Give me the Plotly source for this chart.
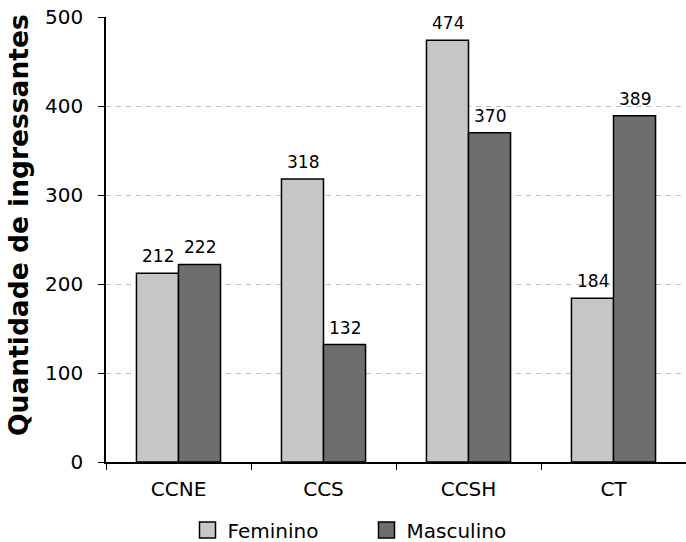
import plotly.graph_objects as go

categories = ["CCNE", "CCS", "CCSH", "CT"]
feminino = [212, 318, 474, 184]
masculino = [222, 132, 370, 389]
y_ticks = [0, 100, 200, 300, 400, 500]
series_names = ["Feminino", "Masculino"]
series_colors = ["#c6c6c6", "#6e6e6e"]

FONT = "DejaVu Sans, Verdana, sans-serif"
BAR_HALF = 21  # half bar width in px, for value labels

fig = go.Figure()
for name, vals, col in zip(series_names, [feminino, masculino], series_colors):
    fig.add_trace(go.Bar(
        x=categories, y=vals, name=name, showlegend=False,
        marker=dict(color=col, line=dict(color="black", width=1.5)),
        hoverinfo="x+y",
    ))
# value labels above bars
annotations = []
for k, vals in enumerate([feminino, masculino]):
    shift = -BAR_HALF if k == 0 else BAR_HALF
    for c, v in zip(categories, vals):
        annotations.append(dict(
            x=c, y=v, xref="x", yref="y", text=str(v), showarrow=False,
            xanchor="center", yanchor="bottom", xshift=shift, yshift=5,
            font=dict(size=17, color="black", family=FONT),
        ))
annotations.append(dict(
    text="<b>Quantidade de ingressantes</b>", textangle=-90,
    xref="paper", yref="paper", x=(19 - 106) / 580, y=(462 - 225) / 445,
    xanchor="center", yanchor="middle", showarrow=False,
    font=dict(size=26.5, color="black", family=FONT),
))
# legend entries with larger square symbols
for name, col in zip(series_names, series_colors):
    fig.add_trace(go.Scatter(
        x=[None], y=[None], mode="markers", name=name,
        marker=dict(symbol="square", size=16, color=col, line=dict(color="black", width=1.5)),
    ))

fig.update_layout(
    width=686, height=542,
    margin=dict(l=106, r=0, t=17, b=80, autoexpand=False),
    paper_bgcolor="white", plot_bgcolor="white",
    font=dict(family=FONT, size=20, color="black"),
    barmode="group", bargap=0.42, bargroupgap=0,
    showlegend=True,
    legend=dict(orientation="h", x=(187.5 - 106) / 580, xanchor="left",
                y=-(530 - 462) / 445, yanchor="middle",
                font=dict(size=20), itemwidth=30, entrywidth=134, entrywidthmode="pixels",
                bgcolor="rgba(0,0,0,0)"),
    annotations=annotations,
)
fig.update_xaxes(
    showline=True, linecolor="black", linewidth=1.5,
    ticks="outside", ticklen=6, tickcolor="black", tickson="boundaries",
    tickfont=dict(size=20), showgrid=False, automargin=False,
    ticklabelstandoff=8,
)
fig.update_yaxes(
    range=[0, 500], tickvals=y_ticks,
    showline=True, linecolor="black", linewidth=1.5,
    ticks="outside", ticklen=6, tickcolor="black",
    tickfont=dict(size=20), ticklabelstandoff=11,
    showgrid=True, gridcolor="#c0c0c0", griddash="5px,5px", gridwidth=1,
    zeroline=False, automargin=False,
)

fig.write_html("out.html", config={"displayModeBar": False},
               post_script="document.body.style.margin='0';")
